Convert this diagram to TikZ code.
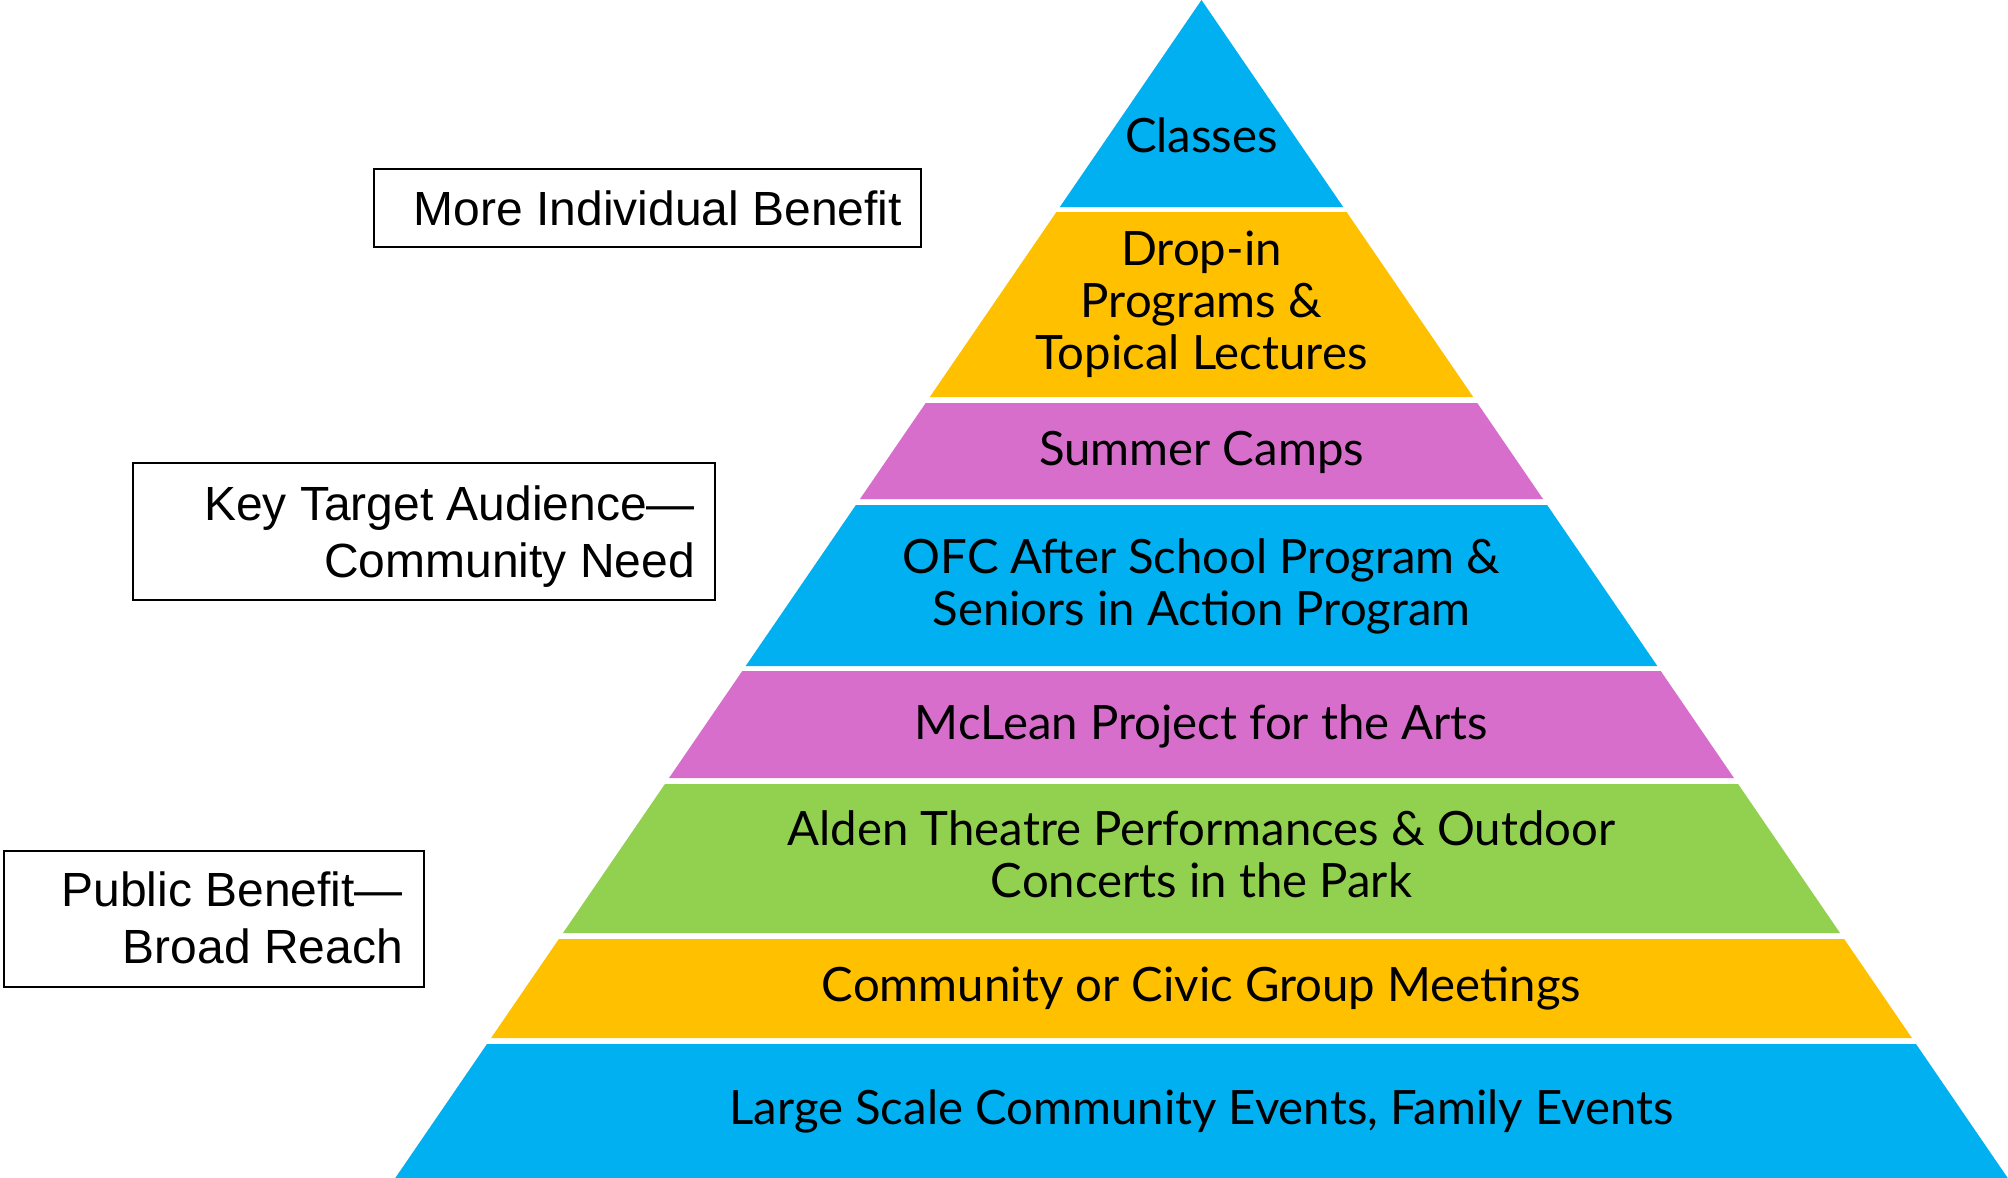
\documentclass[tikz,border=0pt]{standalone}
\usepackage{fontspec}
\newfontfamily\pyrfont{Lato}
\newfontfamily\boxfont{Liberation Sans}
\definecolor{tierblue}{HTML}{00B0F0}
\definecolor{tiergold}{HTML}{FFC000}
\definecolor{tierorchid}{HTML}{D86ECC}
\definecolor{tiergreen}{HTML}{92D050}
\newsavebox\probebox
\newlength\probelen
% one horizontal band of the pyramid: colour, top y, bottom y
\newcommand\tier[3]{%
  \fill[#1] ({1201.5-0.6844*#2},#2) -- ({1201.5+0.6844*#2},#2)
    -- ({1201.5+0.6844*#3},#3) -- ({1201.5-0.6844*#3},#3) -- cycle;}
\begin{document}
% size the fonts from the width of a reference line
\sbox\probebox{\pyrfont\fontsize{10pt}{12pt}\selectfont Large Scale Community Events, Family Events}%
\setlength\probelen{\wd\probebox}%
\pgfmathsetmacro\pyrsize{10*944/\probelen}%
\sbox\probebox{\boxfont\fontsize{10pt}{12pt}\selectfont More Individual Benefit}%
\setlength\probelen{\wd\probebox}%
\pgfmathsetmacro\lblsize{10*488/\probelen}%
\begin{tikzpicture}[x=1pt,y=-1pt,
  tiertext/.style={inner sep=0pt, anchor=base,
    font=\pyrfont\fontsize{\pyrsize pt}{52pt}\selectfont},
  sidetext/.style={inner sep=0pt, anchor=base east,
    font=\boxfont\fontsize{\lblsize pt}{57.5pt}\selectfont},
  sidebox/.style={draw=black, line width=1.8pt}]
\useasboundingbox[fill=white] (0,0) rectangle (2008,1178);

% pyramid bands, top to bottom
\tier{tierblue}{0}{207}
\tier{tiergold}{212}{397}
\tier{tierorchid}{403}{499}
\tier{tierblue}{505}{666}
\tier{tierorchid}{671}{778}
\tier{tiergreen}{784}{933}
\tier{tiergold}{939}{1038}
\tier{tierblue}{1044}{1178}

% band labels
\node[tiertext] (classes) at (1201.5,152) {Classes};
\node[tiertext] (dropin) at (1201.5,265)
  {\begin{tabular}[t]{@{}c@{}}Drop-in\\Programs \&\\Topical Lectures\end{tabular}};
\node[tiertext] (camps) at (1201.5,465) {Summer Camps};
\node[tiertext] (ofc) at (1201.5,573)
  {\begin{tabular}[t]{@{}c@{}}OFC After School Program \&\\Seniors in Action Program\end{tabular}};
\node[tiertext] (mclean) at (1201.5,739) {McLean Project for the Arts};
\node[tiertext] (alden) at (1201.5,845)
  {\begin{tabular}[t]{@{}c@{}}Alden Theatre Performances \& Outdoor\\Concerts in the Park\end{tabular}};
\node[tiertext] (civic) at (1201.5,1001) {Community or Civic Group Meetings};
\node[tiertext] (events) at (1201.5,1124) {Large Scale Community Events, Family Events};

% side captions
\draw[sidebox] (374,169) rectangle (921,247);
\node[sidetext] (individual) at (902,225) {More Individual Benefit};
\draw[sidebox] (133,463) rectangle (715,600);
\node[sidetext] (target) at (695,520)
  {\begin{tabular}[t]{@{}r@{}}Key Target Audience—\\Community Need\end{tabular}};
\draw[sidebox] (4,851) rectangle (424,987);
\node[sidetext] (public) at (403,906)
  {\begin{tabular}[t]{@{}r@{}}Public Benefit—\\Broad Reach\end{tabular}};
\end{tikzpicture}
\end{document}
